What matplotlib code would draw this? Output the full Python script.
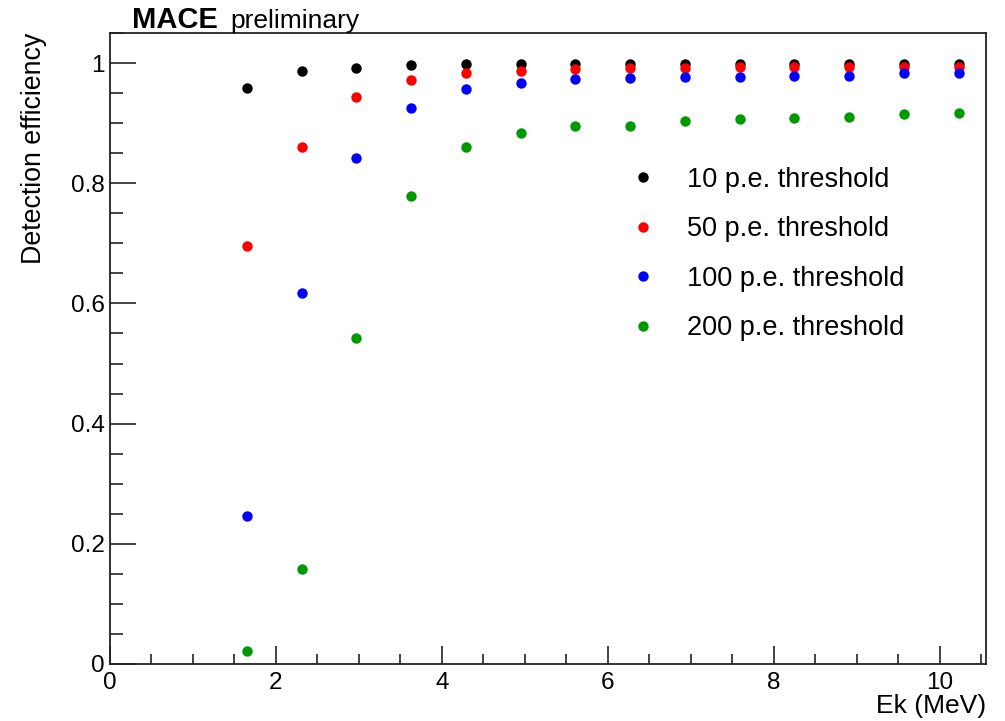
import matplotlib
matplotlib.use("Agg")
import matplotlib.pyplot as plt
from matplotlib.ticker import MultipleLocator
from matplotlib.lines import Line2D

plt.rcParams['font.family'] = ['Liberation Sans', 'DejaVu Sans']

ek = [1.65, 2.31, 2.97, 3.63, 4.29, 4.95, 5.61, 6.27, 6.93, 7.59, 8.25, 8.91, 9.57, 10.23]
eff_10 = [0.958, 0.986, 0.991, 0.996, 0.998, 0.998, 0.999, 0.999, 0.999, 0.999, 0.999, 0.999, 0.999, 0.999]
eff_50 = [0.695, 0.861, 0.943, 0.972, 0.983, 0.986, 0.990, 0.992, 0.992, 0.993, 0.993, 0.993, 0.993, 0.993]
eff_100 = [0.246, 0.617, 0.842, 0.926, 0.957, 0.967, 0.973, 0.975, 0.977, 0.977, 0.979, 0.979, 0.983, 0.983]
eff_200 = [0.022, 0.158, 0.542, 0.779, 0.861, 0.884, 0.895, 0.896, 0.904, 0.907, 0.908, 0.910, 0.916, 0.917]

labels = ["10 p.e. threshold", "50 p.e. threshold", "100 p.e. threshold", "200 p.e. threshold"]
colors = ["#000000", "#ff0000", "#0000ff", "#009900"]
series = [eff_10, eff_50, eff_100, eff_200]

fig = plt.figure(figsize=(10.05, 7.21), dpi=100)
ax = fig.add_axes([110/1005, 1-664/721, (986-110)/1005, (664-33)/721])

for ys, c in zip(series, colors):
    ax.plot(ek, ys, 'o', color=c, markersize=7.5, markeredgewidth=0, linestyle='none')

ax.set_xlim(0, 10.56)
ax.set_ylim(0, 1.05)
ax.xaxis.set_minor_locator(MultipleLocator(0.5))
ax.yaxis.set_minor_locator(MultipleLocator(0.05))
ax.set_yticks([0, 0.2, 0.4, 0.6, 0.8, 1.0])
ax.set_yticklabels(["0", "0.2", "0.4", "0.6", "0.8", "1"])
ax.set_xticks([0, 2, 4, 6, 8, 10])
ax.set_xticklabels(["0", "2", "4", "6", "8", "10"])

ax.tick_params(axis='both', which='both', direction='in', top=False, right=False, width=1.2, color='#222222')
ax.tick_params(axis='y', which='major', length=19, labelsize=17.5, pad=4)
ax.tick_params(axis='y', which='minor', length=9.5)
ax.tick_params(axis='x', which='major', length=13, labelsize=17.5, pad=6)
ax.tick_params(axis='x', which='minor', length=7)
for s in ax.spines.values():
    s.set_linewidth(1.3)
    s.set_color('#222222')

fig.text(34/1005, 1-33/721, "Detection efficiency", rotation=90, ha='center', va='top', fontsize=19.3)
fig.text(986/1005, 1-718/721, "Ek (MeV)", ha='right', va='bottom', fontsize=19)
fig.text(132/1005, 1-28/721, "MACE", ha='left', va='baseline', fontsize=21, fontweight='bold')
fig.text(230/1005, 1-28/721, "preliminary", ha='left', va='baseline', fontsize=19)

handles = [Line2D([], [], marker='o', color=c, markersize=7.5, markeredgewidth=0, linestyle='none') for c in colors]
leg = ax.legend(handles, labels, loc='upper left', bbox_to_anchor=(613/1005, 1-153/721),
                bbox_transform=fig.transFigure, frameon=False, fontsize=19.5,
                handletextpad=1.03, labelspacing=0.87, borderpad=0, handlelength=1.2)

fig.savefig("out.png", dpi=100)
